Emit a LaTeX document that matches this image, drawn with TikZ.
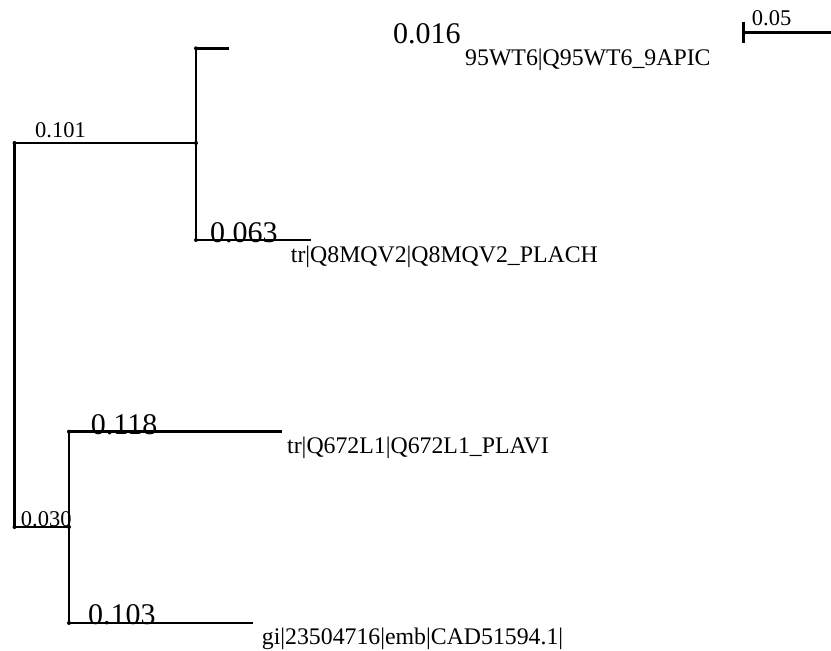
\documentclass[tikz,border=0pt]{standalone}
\usepackage{fontspec}
\setmainfont{Liberation Serif}
\begin{document}
\begin{tikzpicture}[x=1pt,y=-1pt,
  branch/.style={line width=2.6pt},
  dotnode/.style={circle,fill=black,inner sep=0pt,minimum size=4pt},
  biglbl/.style={anchor=base west,inner sep=0pt,font=\fontsize{30}{34}\selectfont},
  smalllbl/.style={anchor=base west,inner sep=0pt,font=\fontsize{22.5}{26}\selectfont},
  taxon/.style={anchor=base west,inner sep=0pt,font=\fontsize{23.8}{28}\selectfont}]
\useasboundingbox (0,0) rectangle (831,651);
% tree points
\coordinate (rt) at (14.5,143);
\coordinate (rb) at (14.5,527);
\coordinate (a) at (196,143);
\coordinate (a1) at (196,48.3);
\coordinate (a2) at (196,240);
\coordinate (la1) at (228.5,48.3);
\coordinate (la2) at (311,240);
\coordinate (b) at (69,527);
\coordinate (b1) at (69,431.7);
\coordinate (b2) at (69,623);
\coordinate (lb1) at (282,431.7);
\coordinate (lb2) at (253,623);
% scale bar
\coordinate (s1) at (743.3,32.7);
\coordinate (s2) at (831,32.7);
\coordinate (st) at (743.3,21.7);
\coordinate (sb) at (743.3,42.7);
% branches
\draw[branch] (rt) -- (rb);
\draw[branch] (rt) -- (a);
\draw[branch] (rb) -- (b);
\draw[branch] (a1) -- (a2);
\draw[branch] (a1) -- (la1);
\draw[branch] (a2) -- (la2);
\draw[branch] (b1) -- (b2);
\draw[branch] (b1) -- (lb1);
\draw[branch] (b2) -- (lb2);
\draw[branch] (s1) -- (s2);
\draw[branch] (st) -- (sb);
% node dots
\foreach \p in {rt,rb,a,a1,a2,b,b1,b2}
  \node[dotnode] at (\p) {};
% labels
\node[smalllbl] (l101) at (35,137) {0.101};
\node[biglbl] (l016) at (393,43) {0.016};
\node[taxon] (t1) at (465,65) {95WT6|Q95WT6\_9APIC};
\node[smalllbl] (l005) at (751.7,25) {0.05};
\node[biglbl] (l063) at (210,242.5) {0.063};
\node[taxon] (t2) at (290.7,262) {tr|Q8MQV2|Q8MQV2\_PLACH};
\node[smalllbl] (l030) at (20.7,526.5) {0.030};
\node[biglbl] (l118) at (90.7,434) {0.118};
\node[taxon] (t3) at (287,453) {tr|Q672L1|Q672L1\_PLAVI};
\node[biglbl] (l103) at (88,624.5) {0.103};
\node[taxon] (t4) at (261.7,644) {gi|23504716|emb|CAD51594.1|};
\end{tikzpicture}
\end{document}
